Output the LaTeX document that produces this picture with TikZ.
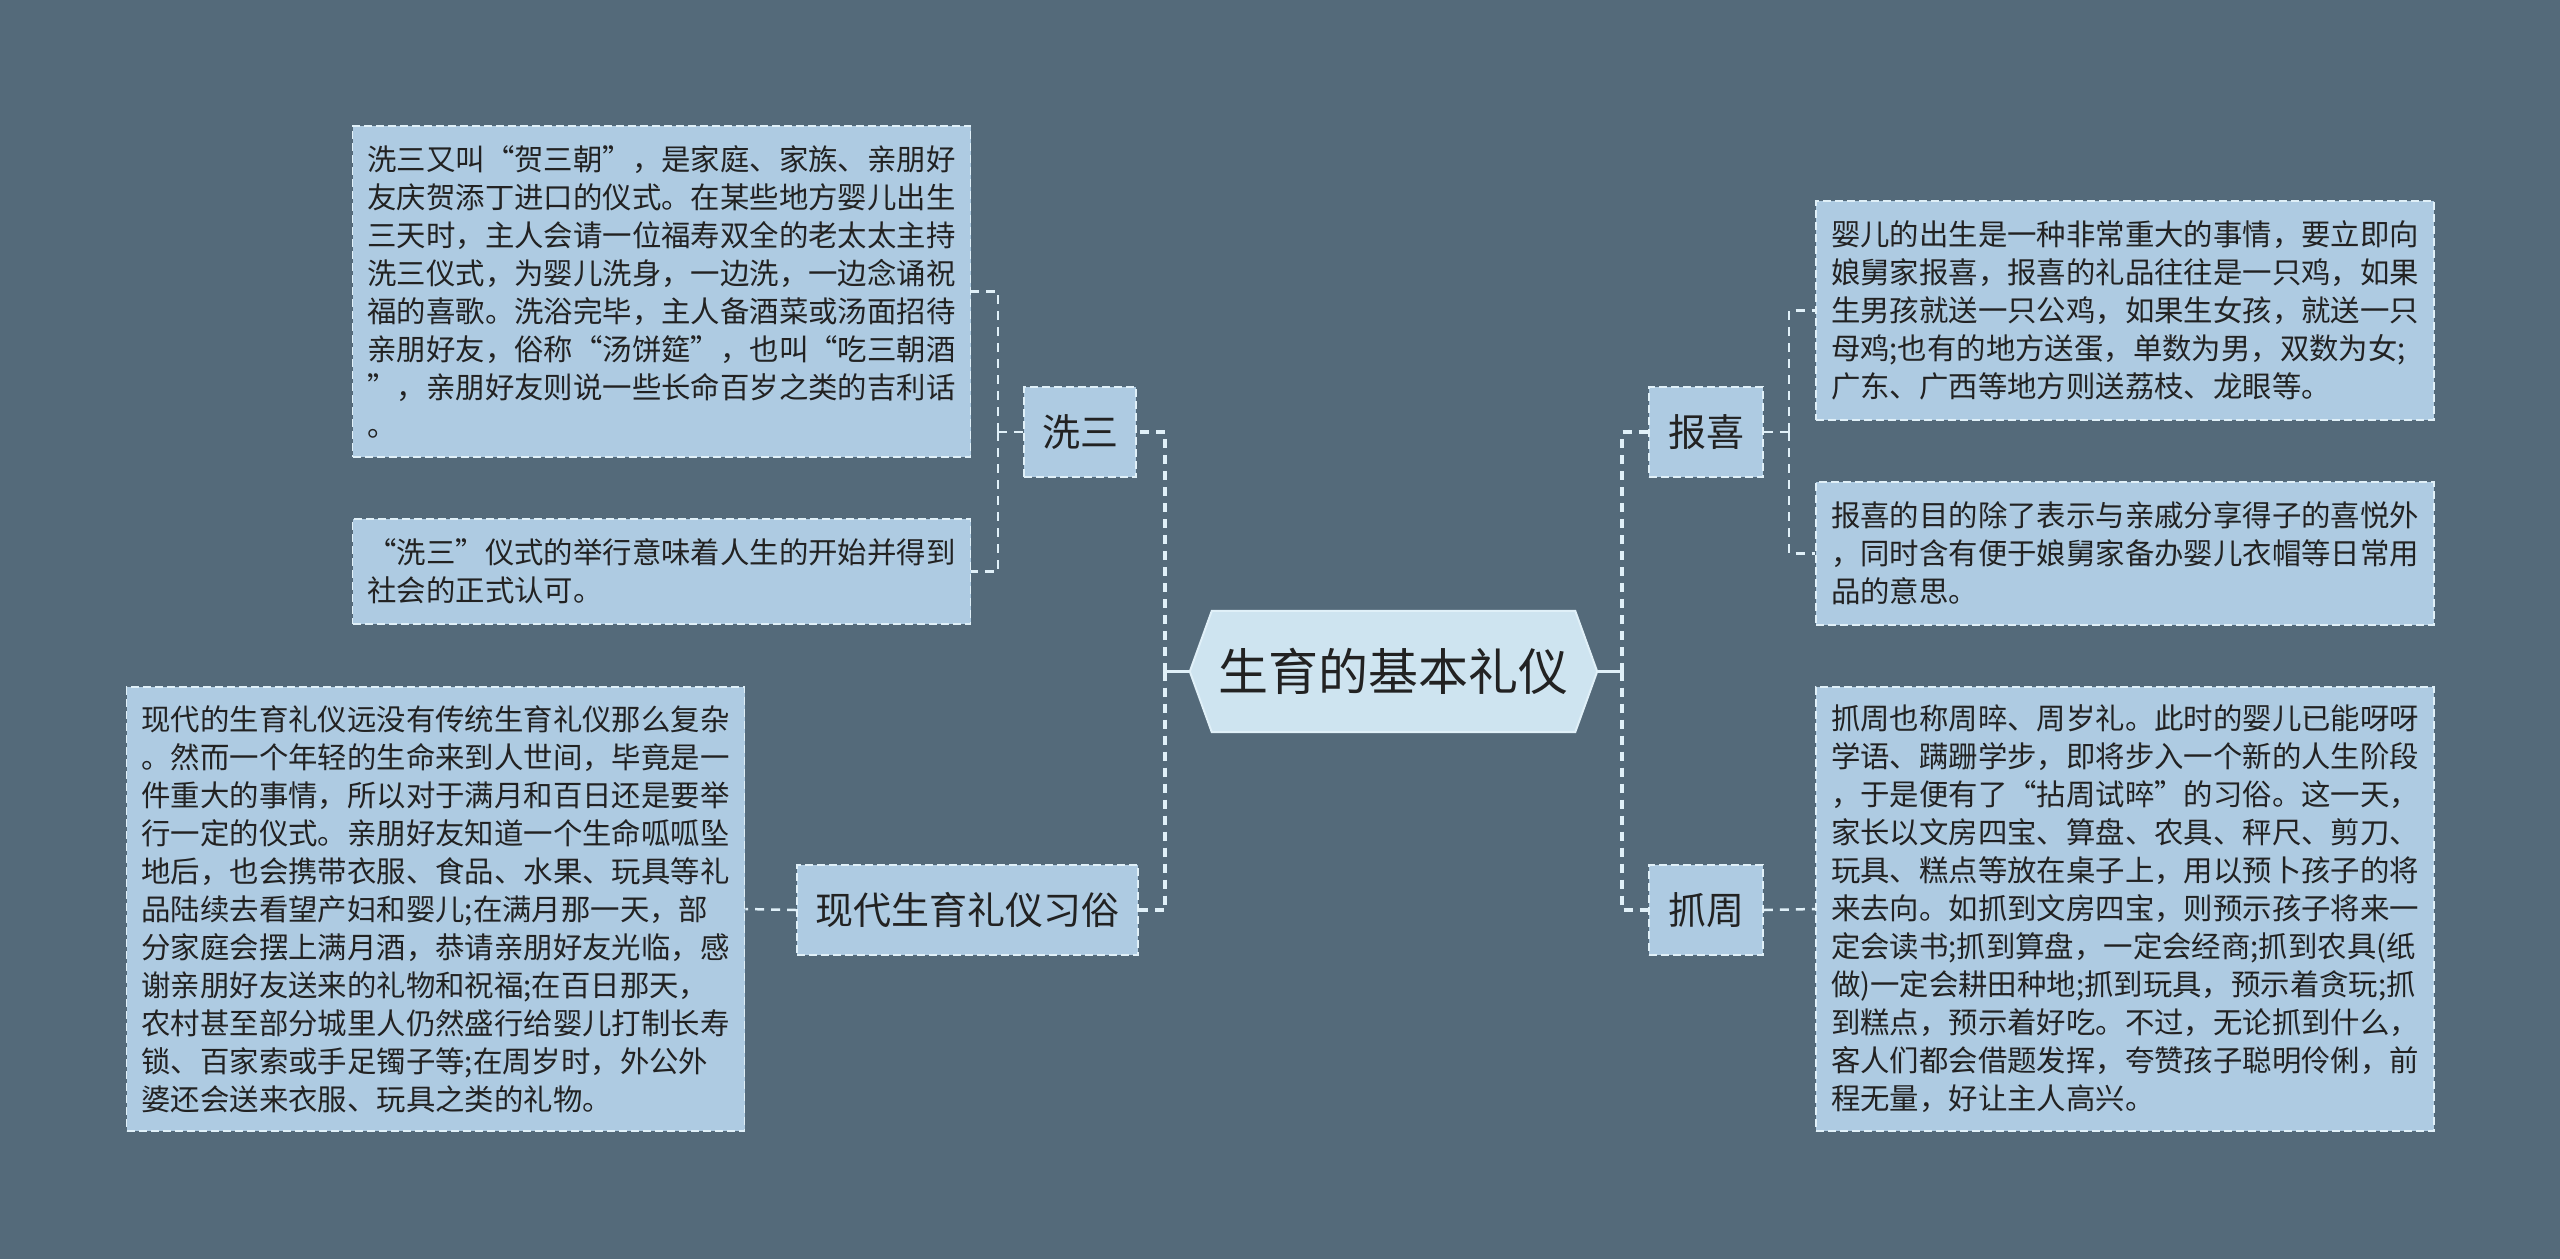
\documentclass[tikz,border=0pt]{standalone}
\usepackage{fontspec}
\setmainfont{Noto Sans CJK SC}
\definecolor{bgc}{RGB}{84,106,122}
\definecolor{boxc}{RGB}{174,203,226}
\definecolor{rootc}{RGB}{206,228,240}
\definecolor{linec}{RGB}{224,240,248}
\definecolor{txtc}{RGB}{34,34,34}
\pgfdeclarelayer{bg}
\pgfsetlayers{bg,main}
\begin{document}
\begin{tikzpicture}[x=1pt,y=-1pt,
  textbox/.style={draw=linec, fill=boxc, line width=1.8pt, dash pattern=on 8pt off 4pt,
    text=txtc, font=\fontsize{29.4}{38}\selectfont, align=left, inner sep=0pt,
    text width=588pt, minimum width=618pt},
  leaf/.style={draw=linec, fill=boxc, line width=1.8pt, dash pattern=on 8pt off 4pt,
    text=txtc, font=\fontsize{38}{44}\selectfont, inner sep=0pt, minimum height=90pt},
  rootshape/.style={fill=rootc, draw=linec, line width=2pt},
  conn/.style={draw=linec, line width=3.5pt, dash pattern=on 9pt off 7pt},
  subconn/.style={draw=linec, line width=2.5pt, dash pattern=on 9pt off 7pt},
  connsolid/.style={draw=linec, line width=3.5pt}
]
\begin{pgfonlayer}{bg}
\fill[bgc] (0,0) rectangle (2560,1259);
\end{pgfonlayer}
\useasboundingbox (0,0) rectangle (2560,1259);

% root
\node[text=txtc, font=\fontsize{50}{60}\selectfont, minimum width=407pt, minimum height=121pt, inner sep=0pt] (root) at (1393.5,671.5) {生育的基本礼仪};
\begin{pgfonlayer}{bg}
\draw[rootshape] (root.west) -- ([xshift=22pt]root.north west) -- ([xshift=-22pt]root.north east)
  -- (root.east) -- ([xshift=-22pt]root.south east) -- ([xshift=22pt]root.south west) -- cycle;
\end{pgfonlayer}

% branch nodes
\node[leaf, minimum width=112pt] (xisan) at (1080,432) {洗三};
\node[leaf, minimum width=341pt] (xiandai) at (967.5,910) {现代生育礼仪习俗};
\node[leaf, minimum width=114pt] (baoxi) at (1706,432) {报喜};
\node[leaf, minimum width=114pt] (zhuazhou) at (1706,910) {抓周};

% text boxes
\node[textbox, minimum height=331pt] (xs1) at (661.5,291.5) {洗三又叫“贺三朝”，是家庭、家族、亲朋好\\友庆贺添丁进口的仪式。在某些地方婴儿出生\\三天时，主人会请一位福寿双全的老太太主持\\洗三仪式，为婴儿洗身，一边洗，一边念诵祝\\福的喜歌。洗浴完毕，主人备酒菜或汤面招待\\亲朋好友，俗称“汤饼筵”，也叫“吃三朝酒\\”，亲朋好友则说一些长命百岁之类的吉利话\\。};
\node[textbox, minimum height=105pt] (xs2) at (661.5,571.5) {“洗三”仪式的举行意味着人生的开始并得到\\社会的正式认可。};
\node[textbox, minimum height=444pt] (xd) at (435.5,909) {现代的生育礼仪远没有传统生育礼仪那么复杂\\。然而一个年轻的生命来到人世间，毕竟是一\\件重大的事情，所以对于满月和百日还是要举\\行一定的仪式。亲朋好友知道一个生命呱呱坠\\地后，也会携带衣服、食品、水果、玩具等礼\\品陆续去看望产妇和婴儿;在满月那一天，部\\分家庭会摆上满月酒，恭请亲朋好友光临，感\\谢亲朋好友送来的礼物和祝福;在百日那天，\\农村甚至部分城里人仍然盛行给婴儿打制长寿\\锁、百家索或手足镯子等;在周岁时，外公外\\婆还会送来衣服、玩具之类的礼物。};
\node[textbox, minimum height=219pt] (bx1) at (2125,310.5) {婴儿的出生是一种非常重大的事情，要立即向\\娘舅家报喜，报喜的礼品往往是一只鸡，如果\\生男孩就送一只公鸡，如果生女孩，就送一只\\母鸡;也有的地方送蛋，单数为男，双数为女;\\广东、广西等地方则送荔枝、龙眼等。};
\node[textbox, minimum height=143pt] (bx2) at (2125,553.5) {报喜的目的除了表示与亲戚分享得子的喜悦外\\，同时含有便于娘舅家备办婴儿衣帽等日常用\\品的意思。};
\node[textbox, minimum height=444pt] (zz) at (2125,909) {抓周也称周晬、周岁礼。此时的婴儿已能呀呀\\学语、蹒跚学步，即将步入一个新的人生阶段\\，于是便有了“拈周试晬”的习俗。这一天，\\家长以文房四宝、算盘、农具、秤尺、剪刀、\\玩具、糕点等放在桌子上，用以预卜孩子的将\\来去向。如抓到文房四宝，则预示孩子将来一\\定会读书;抓到算盘，一定会经商;抓到农具(纸\\做)一定会耕田种地;抓到玩具，预示着贪玩;抓\\到糕点，预示着好吃。不过，无论抓到什么，\\客人们都会借题发挥，夸赞孩子聪明伶俐，前\\程无量，好让主人高兴。};

% connectors
\coordinate (tl) at (1165,671.5);
\coordinate (tr) at (1622,671.5);
\coordinate (xl) at (998,432);
\coordinate (br) at (1789,432);
\draw[connsolid] (root.west) -- (tl);
\draw[connsolid] (root.east) -- (tr);
\draw[conn] (tl) |- (xisan.east);
\draw[conn] (tl) |- (xiandai.east);
\draw[conn] (tr) |- (baoxi.west);
\draw[conn] (tr) |- (zhuazhou.west);
\draw[subconn] (xisan.west) -- (xl);
\draw[subconn] (xl) |- (xs1.east);
\draw[subconn] (xl) |- (xs2.east);
\draw[subconn] (xiandai.west) -- (xd.east);
\draw[subconn] (baoxi.east) -- (br);
\draw[subconn] (br) |- (bx1.west);
\draw[subconn] (br) |- (bx2.west);
\draw[subconn] (zhuazhou.east) -- (zz.west);
\end{tikzpicture}
\end{document}
